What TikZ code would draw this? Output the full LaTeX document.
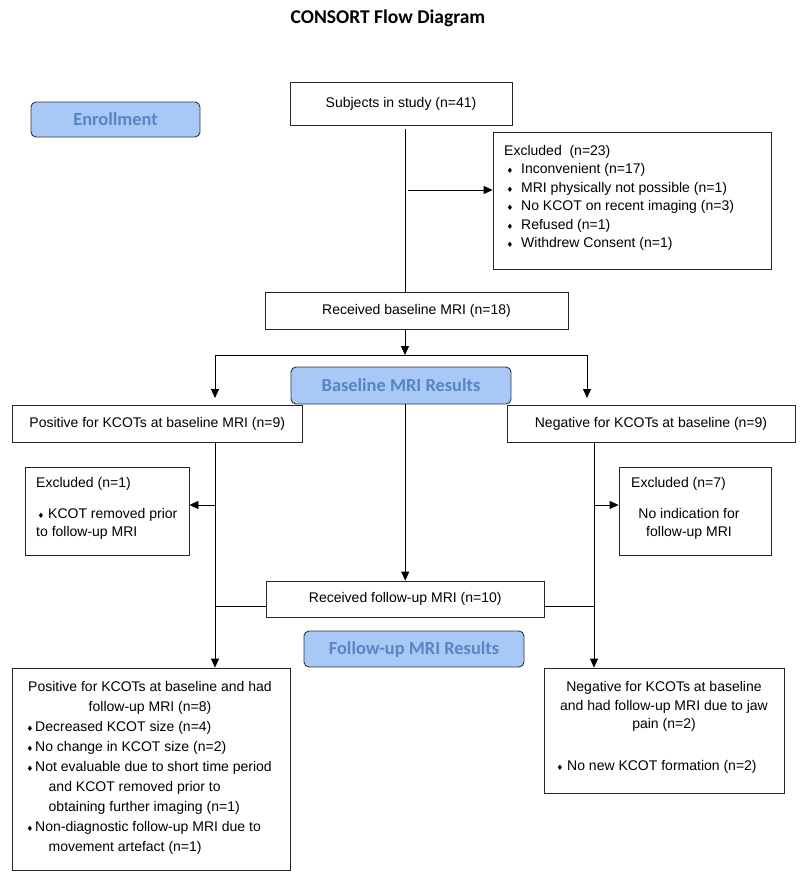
\documentclass[tikz,border=0pt]{standalone}
\usepackage{fontspec}
\setmainfont{Liberation Sans}
\newfontfamily\calb{Carlito}
\newfontfamily\djv{DejaVu Sans}
\usetikzlibrary{arrows.meta,calc}
\definecolor{phfill}{RGB}{168,200,246}
\definecolor{phtext}{RGB}{88,134,196}
\definecolor{phdraw}{RGB}{45,50,65}
\newcommand{\bul}[1]{\makebox[#1][l]{\djv\fontsize{7.5}{7.5}\selectfont ♦}}
\begin{document}
\begin{tikzpicture}[x=1pt,y=-1pt,
 box/.style={draw=black!85, line width=0.8pt, fill=white, inner sep=0pt},
 phase/.style={draw=phdraw, line width=0.9pt, fill=phfill, rounded corners=5pt, inner sep=0pt, text=phtext, font=\calb\bfseries\fontsize{18.4}{20}\selectfont},
 txt/.style={inner sep=0pt, font=\fontsize{14}{18.4}\selectfont},
 ln/.style={line width=0.8pt, black},
 arr/.style={ln, -{Triangle[length=9pt,width=8pt]}}
]
\useasboundingbox (0,0) rectangle (800,883);

\node[font=\calb\bfseries\fontsize{19.5}{22}\selectfont] (title) at (388,18) {CONSORT Flow Diagram};

\node[phase, minimum width=169pt, minimum height=35pt] (enr) at (115.5,119.5) {Enrollment};

\node[box, txt, minimum width=222pt, minimum height=43pt] (subj) at (401,103.5) {Subjects in study (n=41)};

\node[box, minimum width=278pt, minimum height=137pt] (ex23) at (632,200.5) {};
\node[txt, anchor=north west, align=left] (ex23t) at (504,145.2) {Excluded\ \ (n=23)\\
\hspace*{2.5pt}\bul{14.5pt}Inconvenient (n=17)\\
\hspace*{2.5pt}\bul{14.5pt}MRI physically not possible (n=1)\\
\hspace*{2.5pt}\bul{14.5pt}No KCOT on recent imaging (n=3)\\
\hspace*{2.5pt}\bul{14.5pt}Refused (n=1)\\
\hspace*{2.5pt}\bul{14.5pt}Withdrew Consent (n=1)};

\node[box, txt, minimum width=303pt, minimum height=37pt] (rb) at (416.5,310.5) {Received baseline MRI (n=18)};

\coordinate (s1) at (405,129);
\draw[ln] (s1) -- (s1 |- rb.north);
\coordinate (s2) at (408,190);
\draw[arr] (s2) -- (s2 -| ex23.west);

\coordinate (sp) at (405,355);
\coordinate (spl) at (215,355);
\coordinate (spr) at (587,355);
\coordinate (al) at (215,398);
\coordinate (ar) at (587,398);
\draw[arr] (sp |- rb.south) -- (sp);
\draw[ln] (spl) -- (spr);
\draw[arr] (spl) -- (al);
\draw[arr] (spr) -- (ar);

\node[box, txt, minimum width=290.5pt, minimum height=37pt] (pos) at (157.25,423.5) {Positive for KCOTs at baseline MRI (n=9)};
\node[box, txt, minimum width=288pt, minimum height=37pt] (neg) at (651,423.5) {Negative for KCOTs at baseline (n=9)};
\node[phase, minimum width=220pt, minimum height=37pt] (bres) at (401,385.5) {Baseline MRI Results};

\node[box, txt, minimum width=277.5pt, minimum height=36pt] (rf) at (405.25,599) {Received follow-up MRI (n=10)};
\draw[arr] (bres.south -| rf.north) -- (rf.north);

\node[box, minimum width=164pt, minimum height=88pt] (ex1) at (107,511) {};
\node[box, minimum width=152pt, minimum height=88pt] (ex7) at (695,511) {};

\node[box, minimum width=278pt, minimum height=202pt] (bl) at (151,769) {};
\node[box, minimum width=240pt, minimum height=125pt] (br) at (664,730.5) {};

\coordinate (lx) at (215,442);
\coordinate (rx) at (594,442);
\draw[arr] (pos.south -| lx) -- (lx |- bl.north);
\draw[arr] (neg.south -| rx) -- (rx |- br.north);

\coordinate (b1) at (215,505);
\coordinate (b2) at (594,505);
\draw[arr] (b1) -- (b1 -| ex1.east);
\draw[arr] (b2) -- (b2 -| ex7.west);

\coordinate (h1) at (215,606);
\coordinate (h2) at (594,606);
\draw[ln] (h1) -- (h1 -| rf.west);
\draw[ln] (rf.east |- h2) -- (h2);

\node[phase, minimum width=220pt, minimum height=36pt] (fres) at (414,649) {Follow-up MRI Results};

\node[txt, anchor=north west, align=left] (ex1t) at (36,477.2) {Excluded (n=1)\\[12.6pt]
\hspace*{1.5pt}\bul{10.5pt}KCOT removed prior\\
to follow-up MRI};

\node[txt, anchor=north west] (ex7t) at (631,477.2) {Excluded (n=7)};
\node[txt, anchor=north, align=center] (ex7u) at (689,508.2) {No indication for\\follow-up MRI};

\node[txt, anchor=north, align=center, font=\fontsize{14}{20}\selectfont] (blh) at (150,681.2) {Positive for KCOTs at baseline and had\\follow-up MRI (n=8)};
\node[txt, anchor=north west, align=left, font=\fontsize{14}{20}\selectfont] (bll) at (26.5,721.2) {\bul{8.5pt}Decreased KCOT size (n=4)\\
\bul{8.5pt}No change in KCOT size (n=2)\\
\bul{8.5pt}Not evaluable due to short time period\\
\hspace*{22pt}and KCOT removed prior to\\
\hspace*{22pt}obtaining further imaging (n=1)\\
\bul{8.5pt}Non-diagnostic follow-up MRI due to\\
\hspace*{22pt}movement artefact (n=1)};

\node[txt, anchor=north, align=center, font=\fontsize{14}{18.5}\selectfont] (brh) at (664,681.2) {Negative for KCOTs at baseline\\and had follow-up MRI due to jaw\\pain (n=2)};
\node[txt, anchor=north west] (brl) at (556.5,760.2) {\bul{10.5pt}No new KCOT formation (n=2)};
\end{tikzpicture}
\end{document}
